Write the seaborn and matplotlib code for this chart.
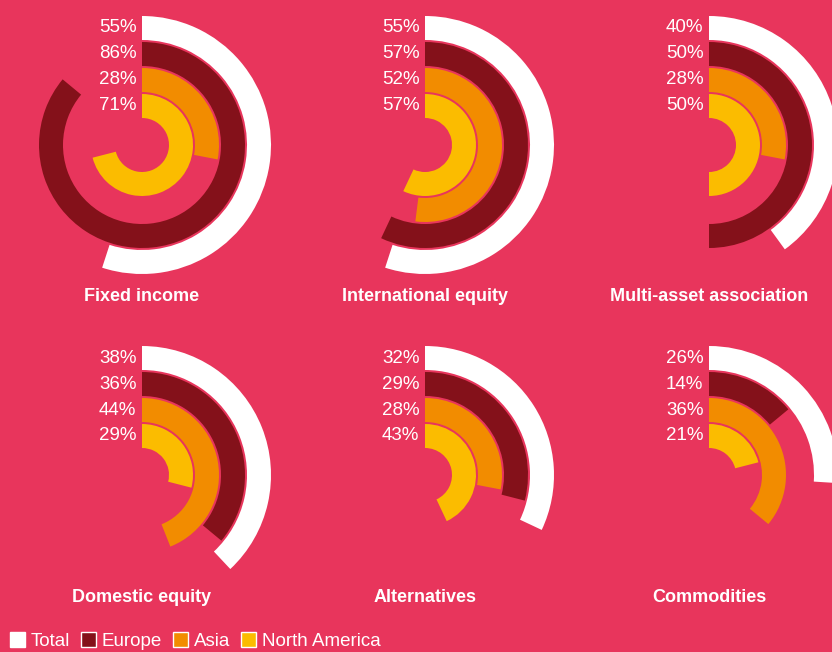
import numpy as np
import pandas as pd
import matplotlib
matplotlib.use("Agg")
import matplotlib.pyplot as plt
from matplotlib.patches import Patch
import seaborn as sns

# data
categories = ["Fixed income", "International equity", "Multi-asset association",
              "Domestic equity", "Alternatives", "Commodities"]
regions = ["Total", "Europe", "Asia", "North America"]
total = [55, 55, 40, 38, 32, 26]
europe = [86, 57, 50, 36, 29, 14]
asia = [28, 52, 28, 44, 28, 36]
north_america = [71, 57, 50, 29, 43, 21]

df = pd.DataFrame({"category": categories, "Total": total, "Europe": europe,
                   "Asia": asia, "North America": north_america})

bg = "#E8355C"
colors = sns.color_palette(["#FFFFFF", "#84111A", "#F28C00", "#FBBC00"])

sns.set_theme(style="white")
plt.rcParams["font.family"] = ["Liberation Sans", "DejaVu Sans"]

W, H = 832, 652
fig = plt.figure(figsize=(W / 100, H / 100), dpi=100, facecolor=bg)

centers = [(142, 145), (425, 145), (709, 145),
           (142, 475), (425, 475), (709, 475)]
title_y = [297, 297, 297, 597, 597, 597]
R = 130
ring_mid = [117, 91, 65, 39]   # outer -> inner
ring_h = 24

for i, row in df.iterrows():
    cx, cy = centers[i]
    ax = fig.add_axes([(cx - R) / W, (H - cy - R) / H, 2 * R / W, 2 * R / H],
                      projection="polar")
    ax.set_theta_zero_location("N")
    ax.set_theta_direction(-1)
    ax.set_ylim(0, R)
    ax.axis("off")
    for j, reg in enumerate(regions):
        val = row[reg]
        ax.barh(ring_mid[j], np.deg2rad(val * 3.6), left=0, height=ring_h,
                color=colors[j], edgecolor="none", align="center")
        ax.annotate(f"{val}%", xy=(0, ring_mid[j]), xytext=(-4, 0),
                    textcoords="offset points", ha="right", va="center",
                    color="white", fontsize=13.5)
    fig.text(cx / W, 1 - title_y[i] / H, row["category"],
             ha="center", va="center", color="white", fontsize=13,
             fontweight="bold")

handles = [Patch(facecolor=c, edgecolor="white", linewidth=1) for c in colors]
fig.legend(handles, regions, loc="lower left", bbox_to_anchor=(-0.004, -0.017),
           ncol=4, frameon=False, fontsize=13.5, labelcolor="white",
           handlelength=0.8, handleheight=0.8, handletextpad=0.3,
           columnspacing=0.6, borderaxespad=0.3)

fig.savefig("out.png", dpi=100, facecolor=bg)
